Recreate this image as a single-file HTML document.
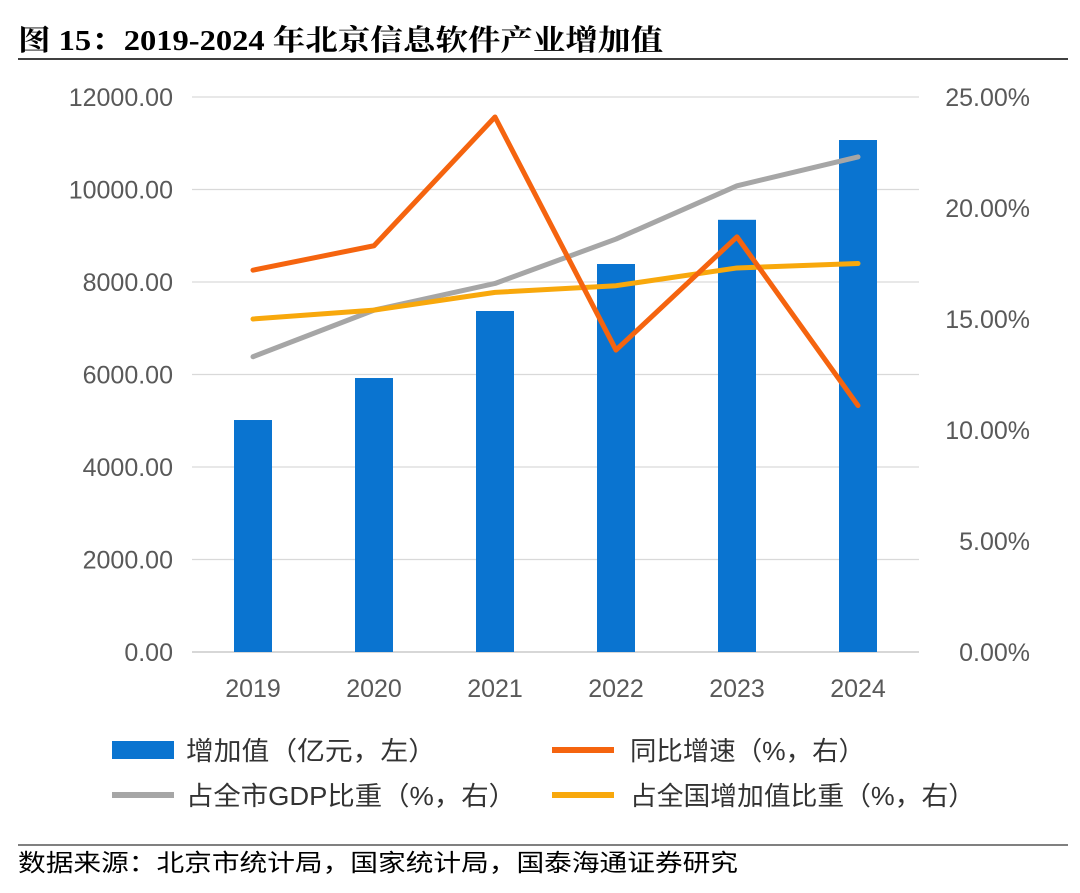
<!DOCTYPE html>
<html><head><meta charset="utf-8"><style>
body{margin:0;background:#fff;width:1080px;height:888px;overflow:hidden;font-family:"Liberation Sans","Noto Sans CJK SC",sans-serif}
</style></head><body>
<svg width="1080" height="888" xmlns="http://www.w3.org/2000/svg">
<text x="18" y="50" font-family="Liberation Serif,Noto Serif CJK SC,serif" font-weight="bold" font-size="29" fill="#000" textLength="645" lengthAdjust="spacingAndGlyphs">图 15：2019-2024 年北京信息软件产业增加值</text>
<line x1="18" y1="59" x2="1068" y2="59" stroke="#000" stroke-width="1.5"/>
<g id="grid"></g><g id="bars"></g><g id="lines"></g><g id="axes"></g>
<g font-size="26" fill="#333">
<rect x="112" y="741" width="62" height="18" fill="#0a74d0"/>
<text x="186" y="760" textLength="250" lengthAdjust="spacingAndGlyphs">增加值（亿元，左）</text>
<line x1="552" y1="750" x2="614" y2="750" stroke="#f5640f" stroke-width="6"/>
<text x="630" y="760" textLength="235" lengthAdjust="spacingAndGlyphs">同比增速（%，右）</text>
<line x1="112" y1="795" x2="174" y2="795" stroke="#a6a6a6" stroke-width="6"/>
<text x="186" y="805" textLength="330" lengthAdjust="spacingAndGlyphs">占全市GDP比重（%，右）</text>
<line x1="552" y1="795" x2="614" y2="795" stroke="#f8a80c" stroke-width="6"/>
<text x="630" y="805" textLength="345" lengthAdjust="spacingAndGlyphs">占全国增加值比重（%，右）</text>
</g>
<line x1="18" y1="845" x2="1068" y2="845" stroke="#000" stroke-width="1"/>
<text x="18" y="871" font-size="24" fill="#000" textLength="720" lengthAdjust="spacingAndGlyphs">数据来源：北京市统计局，国家统计局，国泰海通证券研究</text>
</svg>
<script>
const years=["2019","2020","2021","2022","2023","2024"];
const valueAdded=[5016,5924,7373,8389,9345,11070];
const growth=[17.2,18.3,24.1,13.6,18.7,11.1];
const gdpShare=[13.3,15.4,16.6,18.6,21.0,22.3];
const nationalShare=[15.0,15.4,16.2,16.5,17.3,17.5];
const leftTicks=[0,2000,4000,6000,8000,10000,12000];
const rightTicks=[0,5,10,15,20,25];
const NS="http://www.w3.org/2000/svg";
const y0=652,yTop=97;
const yL=v=>y0-(v/12000)*(y0-yTop);
const yR=v=>y0-(v/25)*(y0-yTop);
const xC=i=>253+i*121;
function mk(tag,attrs,parent,text){const e=document.createElementNS(NS,tag);for(const k in attrs)e.setAttribute(k,attrs[k]);if(text!=null)e.textContent=text;document.getElementById(parent).appendChild(e);return e;}
leftTicks.forEach(t=>{
 const l=mk('line',{x1:192,x2:919,y1:yL(t),y2:yL(t),stroke:t?'#d9d9d9':'#bfbfbf','stroke-width':1.2},'grid');
 
 
 const tx=mk('text',{x:173,y:yL(t)+9,'text-anchor':'end','font-size':25,fill:'#595959'},'axes',t.toFixed(2));
 
 
});
rightTicks.forEach(t=>{
 const tx=mk('text',{x:1030,y:yR(t)+9,'text-anchor':'end','font-size':25,fill:'#595959'},'axes',t.toFixed(2)+'%');
 
 
});
years.forEach((y,i)=>{
 const b=mk('rect',{x:xC(i)-19,y:yL(valueAdded[i]),width:38,height:y0-yL(valueAdded[i]),fill:'#0a74d0'},'bars');
 
 
 const tx=mk('text',{x:xC(i),y:697,'text-anchor':'middle','font-size':25,fill:'#595959'},'axes',y);
 
 
});
function line(arr,color,name){
 const p=mk('polyline',{points:arr.map((v,i)=>xC(i)+','+yR(v)).join(' '),fill:'none',stroke:color,'stroke-width':5,'stroke-linejoin':'round','stroke-linecap':'round'},'lines');
 
 
}
line(gdpShare,'#a6a6a6','gdp-share-line');
line(nationalShare,'#f8a80c','national-share-line');
line(growth,'#f5640f','growth-line');
</script>
</body></html>
